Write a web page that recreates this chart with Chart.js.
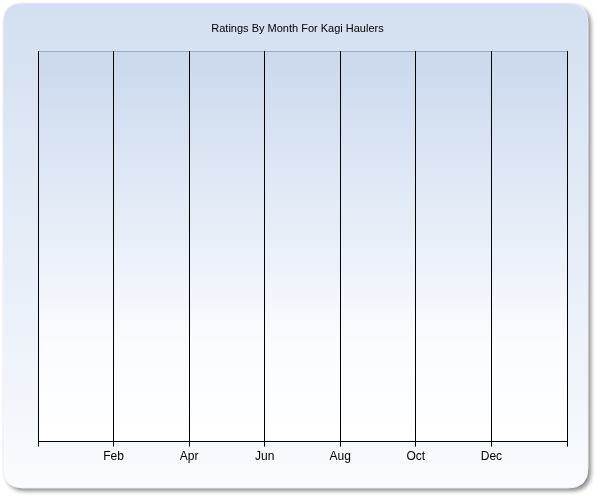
<!DOCTYPE html>
<html>
<head>
<meta charset="utf-8">
<script src="https://cdn.jsdelivr.net/npm/chart.js@4/dist/chart.umd.min.js"></script>
<style>
  html, body { margin: 0; padding: 0; background: #ffffff; }
  #wrap { width: 600px; height: 500px; }
</style>
</head>
<body>
<div id="wrap"><canvas id="c" width="600" height="500"></canvas></div>
<script>
// ---- data ----
const chartTitle = "Ratings By Month For Kagi Haulers";
const months = ["Jan", "Feb", "Mar", "Apr", "May", "Jun", "Jul", "Aug", "Sep", "Oct", "Nov", "Dec"];
const tickLabels = ["", "Feb", "Apr", "Jun", "Aug", "Oct", "Dec", ""];
const ratings = []; // no data points shown in the reference

// ---- plugins for background styling ----
const framePlugin = {
  id: 'frame',
  beforeDraw(chart) {
    const ctx = chart.ctx;
    const x = 3, y = 3, w = 585, h = 485, r = 20;
    function rr() {
      ctx.beginPath();
      ctx.moveTo(x + r, y);
      ctx.lineTo(x + w - r, y);
      ctx.quadraticCurveTo(x + w, y, x + w, y + r);
      ctx.lineTo(x + w, y + h - r);
      ctx.quadraticCurveTo(x + w, y + h, x + w - r, y + h);
      ctx.lineTo(x + r, y + h);
      ctx.quadraticCurveTo(x, y + h, x, y + h - r);
      ctx.lineTo(x, y + r);
      ctx.quadraticCurveTo(x, y, x + r, y);
      ctx.closePath();
    }
    ctx.save();
    ctx.fillStyle = '#ffffff';
    ctx.fillRect(0, 0, chart.width, chart.height);
    ctx.shadowColor = 'rgba(0,0,0,0.45)';
    ctx.shadowBlur = 4;
    ctx.shadowOffsetX = 3;
    ctx.shadowOffsetY = 3;
    const g = ctx.createLinearGradient(0, y, 0, y + h);
    g.addColorStop(0, '#d3dff0');
    g.addColorStop(1, '#f9fbfe');
    ctx.fillStyle = g;
    rr();
    ctx.fill();
    ctx.shadowColor = 'transparent';
    ctx.strokeStyle = 'rgba(235,240,248,1)';
    ctx.lineWidth = 1;
    rr();
    ctx.stroke();
    // plot area
    const a = chart.chartArea;
    const pg = ctx.createLinearGradient(0, a.top, 0, a.bottom);
    pg.addColorStop(0, '#cad8ed');
    pg.addColorStop(0.75, '#fafcff');
    pg.addColorStop(1, '#ffffff');
    ctx.fillStyle = pg;
    ctx.fillRect(a.left, a.top, a.right - a.left, a.bottom - a.top);
    ctx.strokeStyle = '#9eabc2';
    ctx.beginPath();
    ctx.moveTo(a.left, Math.round(a.top) + 0.5);
    ctx.lineTo(a.right, Math.round(a.top) + 0.5);
    ctx.stroke();
    ctx.restore();
  }
};

new Chart(document.getElementById('c'), {
  type: 'line',
  data: {
    datasets: [{
      label: 'Ratings',
      data: ratings,
      borderColor: '#4472c4',
      pointRadius: 0
    }]
  },
  options: {
    responsive: false,
    animation: false,
    devicePixelRatio: 1,
    layout: { padding: { left: 28, right: 33, top: 0, bottom: 33 } },
    plugins: {
      legend: { display: false },
      tooltip: { enabled: false },
      title: {
        display: true,
        text: chartTitle,
        color: '#000000',
        font: { family: 'Liberation Sans', size: 11, weight: 'normal' },
        padding: { top: 22.4, bottom: 15.4 }
      }
    },
    scales: {
      x: {
        type: 'linear',
        min: 0,
        max: 14,
        grid: {
          display: true,
          color: '#000000',
          lineWidth: 1,
          drawOnChartArea: true,
          drawTicks: true,
          tickLength: 5,
          tickColor: '#000000'
        },
        border: { display: true, color: '#000000', width: 1 },
        ticks: {
          stepSize: 2,
          autoSkip: false,
          maxRotation: 0,
          padding: 3,
          color: '#000000',
          font: { family: 'Liberation Sans', size: 12 },
          callback: (v) => tickLabels[Math.round(v / 2)] ?? ''
        }
      },
      y: {
        display: true,
        min: 0,
        max: 5,
        grid: { display: false },
        border: { display: false },
        ticks: { display: false },
        afterFit: (axis) => { axis.width = 10; }
      }
    }
  },
  plugins: [framePlugin]
});
</script>
</body>
</html>
